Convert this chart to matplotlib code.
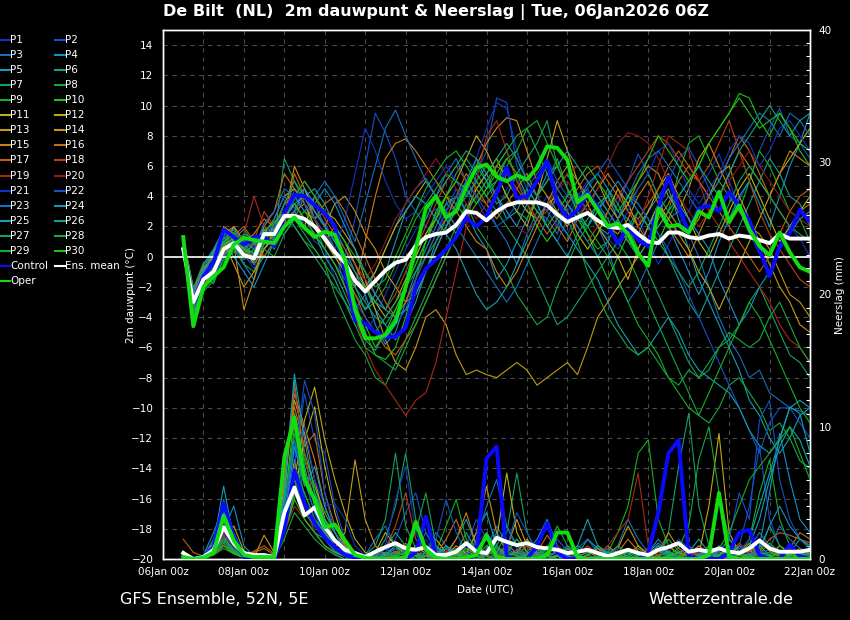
import numpy as np
import pandas as pd
import matplotlib
matplotlib.use('Agg')
import matplotlib.pyplot as plt
import matplotlib.dates as mdates
from matplotlib.lines import Line2D
from matplotlib.ticker import MultipleLocator, FixedLocator

W, H = 850, 620
N = 63
times = pd.date_range('2026-01-06 12:00', periods=N, freq='6h')

# ---------------- highlighted series: dewpoint (C) ----------------
T_CONTROL = [0.6, -3.0, -1.3, -0.4, 1.8, 1.3, 0.8, 1.3, 1.3, 0.7,
             2.9, 4.1, 4.0, 3.4, 2.9, 2.0, -1.0, -4.2, -4.4, -5.0,
             -5.3, -5.3, -4.7, -2.0, -0.8, -0.2, 0.5, 1.3, 2.6, 2.0,
             2.6, 4.2, 5.9, 3.9, 4.0, 5.0, 6.3, 3.6, 2.5, 3.1,
             4.2, 3.3, 2.0, 0.9, 2.0, 1.1, 0.7, 3.3, 5.3, 3.3,
             1.6, 3.2, 3.4, 3.0, 4.3, 3.3, 2.4, 0.5, -1.3, 0.7,
             1.6, 3.1, 2.3]
T_OPER = [1.3, -4.6, -2.0, -1.3, -0.7, 0.8, 1.25, 1.1, 1.0, 0.9,
          2.0, 2.6, 1.9, 1.3, 1.65, 1.45, -0.2, -3.5, -5.4, -5.4,
          -5.2, -4.3, -2.0, 0.5, 3.2, 4.0, 2.6, 3.0, 4.6, 5.9,
          6.1, 5.3, 5.0, 5.4, 5.1, 5.9, 7.3, 7.2, 6.4, 3.6,
          4.1, 3.1, 2.0, 2.2, 1.5, 0.2, -0.6, 3.2, 2.0, 2.1,
          1.6, 3.0, 2.6, 4.3, 2.3, 3.4, 1.8, 0.7, 0.1, 1.6,
          0.3, -0.7, -1.0]
T_MEAN = [0.5, -3.0, -1.5, -1.0, 0.5, 0.9, 0.1, -0.1, 1.5, 1.5,
          2.7, 2.7, 2.5, 2.0, 1.2, 0.3, -0.4, -1.6, -2.3, -1.6,
          -0.9, -0.4, -0.2, 0.7, 1.3, 1.5, 1.6, 2.1, 3.0, 2.9,
          2.4, 3.0, 3.4, 3.6, 3.6, 3.6, 3.4, 2.8, 2.3, 2.6,
          2.9, 2.4, 2.0, 1.9, 2.1, 1.5, 1.0, 0.9, 1.6, 1.6,
          1.3, 1.2, 1.4, 1.5, 1.2, 1.4, 1.3, 1.1, 0.9, 1.5,
          1.2, 1.2, 1.2]

# ---------------- highlighted series: precipitation (mm) ----------------
P_CONTROL = [0.3, 0, 0.15, 0.9, 4.2, 1.6, 0.15, 0, 0, 0,
             2.2, 6.7, 4.2, 2.7, 1.6, 0.9, 0.3, 0.1, 0, 0,
             0, 0, 0, 0.5, 3.2, 0.3, 0, 0, 0, 0.3,
             7.6, 8.5, 0.2, 0, 0, 1.0, 2.7, 0.5, 0, 0,
             0, 0, 0, 0, 0, 0, 0.45, 3.5, 8.0, 9.0,
             0.2, 0, 0, 0, 0.5, 2.0, 2.2, 0.3, 0, 0,
             1.1, 0.2, 0]
P_OPER = [0.15, 0, 0.1, 0.5, 3.3, 1.4, 0.3, 0.15, 0.15, 0.15,
          7.7, 10.7, 6.0, 4.5, 2.4, 2.6, 1.4, 0.3, 0.1, 0,
          0, 0, 0.1, 2.8, 0.7, 0.1, 0, 0, 0.1, 0.3,
          1.8, 0.15, 0, 0, 0, 0, 0.3, 2.0, 2.0, 0.15,
          0, 0, 0, 0, 0, 0, 0, 0, 0, 0,
          0, 0, 0.3, 5.0, 0.15, 0, 0, 0, 0, 0,
          0, 0, 0]
P_MEAN = [0.45, 0, 0.15, 0.7, 2.4, 1.2, 0.45, 0.3, 0.3, 0.15,
          3.5, 5.4, 3.3, 3.9, 2.4, 1.4, 0.7, 0.45, 0.15, 0.55,
          0.9, 1.2, 0.8, 0.7, 0.9, 0.3, 0.3, 0.55, 1.2, 0.55,
          0.45, 1.6, 1.3, 1.05, 1.2, 0.9, 0.8, 0.7, 0.45, 0.55,
          0.7, 0.45, 0.2, 0.45, 0.7, 0.45, 0.3, 0.7, 0.9, 1.2,
          0.55, 0.7, 0.55, 0.8, 0.55, 0.45, 0.8, 1.4, 0.8, 0.55,
          0.55, 0.55, 0.7]

# ---------------- perturbed members: dewpoint (C) ----------------
T_P1 = [1.0, -2.8, -1.2, -0.5, 0.8, 1.5, 0.2, -0.8, 1.0, 1.8,
        3.5, 3.0, 2.2, 1.0, 0.5, -1.5, -3.0, -4.5, -5.0, -4.0,
        -2.5, -1.0, 0.5, 1.8, 2.5, 3.2, 2.0, 3.5, 4.2, 3.8,
        2.5, 3.0, 4.5, 5.2, 3.8, 3.0, 4.0, 2.2, 1.5, 2.8,
        3.5, 2.0, 1.2, 0.5, 1.8, 2.5, 1.0, -0.5, 0.8, 2.2,
        3.0, 4.5, 5.5, 6.8, 5.0, 3.2, 1.5, 0.2, -1.0, 0.5,
        2.0, 1.2, 0.0]
T_P2 = [0.8, -3.5, -1.8, -1.2, 0.2, 0.8, 1.2, 0.5, 2.0, 1.0,
        2.0, 4.5, 3.8, 3.0, 2.2, 1.0, 0.0, 2.5, 6.0, 9.5,
        8.2, 6.5, 4.0, 3.0, 2.0, 1.5, 3.0, 4.5, 3.0, 5.5,
        7.0, 10.5, 10.2, 6.0, 4.5, 3.5, 2.0, 1.0, 2.5, 3.8,
        4.5, 3.0, 2.0, 3.5, 5.0, 6.8, 5.5, 4.0, 5.0, 6.5,
        7.2, 6.0, 4.5, 3.0, 2.0, 3.8, 5.0, 7.0, 8.5, 9.8,
        8.0, 7.5, 6.5]
T_P3 = [1.2, -2.5, -0.8, -1.5, 1.0, 2.0, 0.5, 1.0, 0.8, 2.5,
        4.0, 3.2, 4.0, 3.5, 2.0, 0.5, -2.0, -3.5, -2.5, -1.0,
        0.5, 2.0, 3.5, 4.5, 5.2, 4.0, 5.5, 6.5, 5.0, 4.0,
        3.5, 2.0, 1.0, -0.5, 1.5, 3.0, 2.5, 1.5, 3.5, 4.2,
        3.0, 2.0, 0.5, -1.5, -3.0, -2.0, -0.5, 1.0, 2.5, 3.0,
        1.5, 0.0, -2.0, -4.0, -5.5, -6.5, -8.0, -7.5, -9.0, -9.5,
        -10.0, -10.2, -10.5]
T_P4 = [0.9, -3.0, -1.0, 0.0, 1.5, 0.5, -0.5, -1.5, 0.5, 1.2,
        2.5, 3.8, 4.5, 2.5, 3.0, 1.8, 0.5, -1.0, -2.5, -4.5,
        -5.8, -5.0, -3.0, -1.0, 0.5, 2.0, 3.5, 4.0, 3.0, 1.5,
        0.5, -1.5, -0.5, 1.0, 2.5, 4.0, 5.5, 6.0, 4.5, 3.5,
        4.8, 5.5, 4.5, 3.0, 2.5, 1.5, 3.0, 4.0, 2.0, 0.5,
        -1.0, -2.5, -1.0, 1.0, 2.5, 4.0, 5.0, 3.5, 2.0, 4.0,
        6.0, 7.5, 9.5]
T_P5 = [1.1, -2.2, -0.5, 0.5, 1.8, 1.0, 0.0, 0.5, 2.0, 1.5,
        1.5, 2.5, 4.0, 4.5, 3.5, 2.0, 1.0, -0.5, -2.0, -3.5,
        -4.5, -5.5, -4.5, -3.0, -1.0, 1.0, 2.5, 1.5, 3.0, 4.5,
        5.5, 4.0, 2.5, 3.0, 4.5, 3.5, 2.0, 1.0, 0.0, 1.5,
        2.5, 3.5, 4.0, 2.5, 1.0, 0.5, 2.0, 3.5, 4.5, 2.5,
        0.5, -1.5, -3.0, -4.5, -6.0, -7.5, -9.5, -10.5, -12.0, -13.0,
        -12.0, -10.5, -10.0]
T_P6 = [0.7, -3.8, -2.0, -1.0, 0.0, 1.2, 1.8, 0.8, 1.5, 0.5,
        2.0, 3.0, 2.0, 1.5, 0.0, -1.0, -2.5, -4.0, -5.5, -6.2,
        -5.0, -4.0, -2.0, 0.0, 1.5, 2.8, 4.0, 5.5, 6.5, 5.5,
        4.5, 5.0, 6.5, 7.0, 5.0, 4.0, 3.0, 4.5, 5.5, 4.0,
        3.0, 2.0, 1.5, 2.5, 4.0, 3.5, 2.5, 1.5, 0.0, -1.5,
        -3.0, -4.0, -2.5, -1.0, 0.5, 2.0, 3.5, 5.0, 6.5, 5.5,
        4.0, 3.5, 2.0]
T_P7 = [1.3, -3.2, -1.5, -0.8, 0.5, 1.0, -0.5, -1.0, 0.0, 1.0,
        6.5, 5.0, 3.5, 2.0, 0.5, -0.5, -1.5, -2.0, -3.0, -4.0,
        -4.5, -3.5, -2.0, -0.5, 1.0, 2.5, 3.5, 3.0, 4.5, 6.0,
        5.0, 3.5, 4.0, 5.5, 6.5, 7.5, 9.0, 6.0, 4.5, 3.0,
        2.0, 3.0, 4.5, 3.5, 2.0, 0.5, -1.0, -2.5, -4.0, -5.5,
        -7.0, -8.0, -7.5, -6.0, -5.5, -4.5, -3.0, -2.0, -3.5, -5.0,
        -6.5, -7.0, -8.0]
T_P8 = [1.0, -2.6, -1.0, -1.8, 0.0, 0.5, 1.0, 0.0, 1.2, 2.0,
        2.8, 2.0, 1.0, 0.5, -0.5, -2.5, -4.0, -5.5, -6.5, -8.0,
        -8.5, -7.0, -5.5, -4.0, -2.5, -1.0, 0.5, 2.0, 3.5, 2.0,
        1.0, 0.0, -1.0, -2.5, -3.5, -4.5, -4.0, -2.0, -0.5, 1.0,
        2.0, 3.5, 2.5, 1.0, 0.0, -1.5, -3.0, -4.5, -6.0, -7.5,
        -9.0, -10.5, -11.0, -10.0, -8.5, -8.0, -9.0, -10.0, -11.5, -11.0,
        -12.0, -13.5, -14.0]
T_P9 = [0.6, -4.0, -2.2, -1.2, 1.0, 1.8, 0.5, 0.0, 1.8, 1.0,
        3.0, 2.5, 3.0, 2.0, 1.0, 0.0, -1.0, -2.5, -3.5, -3.0,
        -2.0, -0.5, 1.0, 2.5, 3.5, 4.5, 5.5, 5.0, 4.0, 5.0,
        6.0, 5.5, 4.0, 3.0, 2.5, 4.0, 5.0, 6.5, 4.5, 3.0,
        1.5, 0.5, 1.0, 2.5, 3.5, 4.5, 5.5, 4.0, 3.0, 5.5,
        7.5, 8.0, 6.5, 5.0, 4.0, 3.0, 5.0, 7.0, 6.0, 4.5,
        3.0, 2.5, 1.0]
T_P10 = [1.0, -3.5, -1.2, -0.5, 0.8, 1.2, 1.0, 0.5, 1.0, 2.0,
         3.5, 4.0, 3.0, 2.5, 1.5, 0.5, -1.0, -3.0, -5.0, -6.5,
         -6.8, -6.0, -4.0, -1.5, 1.0, 3.0, 4.0, 3.5, 2.5, 3.5,
         4.5, 6.0, 7.0, 5.0, 3.5, 2.0, 1.0, 2.0, 3.5, 2.5,
         1.5, 0.0, -1.5, 0.0, 1.5, 3.0, 2.0, 1.0, 2.5, 4.0,
         5.0, 6.0, 7.5, 8.5, 9.5, 10.8, 10.5, 9.0, 8.0, 9.5,
         8.5, 7.0, 6.0]
T_P11 = [0.9, -2.8, -0.8, 0.0, 2.0, 1.5, 0.5, -0.5, 1.5, 2.5,
         4.0, 4.5, 3.5, 2.0, 1.5, 0.5, -0.5, -1.5, -2.0, -1.0,
         0.5, 2.0, 3.0, 4.0, 5.0, 4.0, 3.0, 2.0, 3.0, 4.5,
         5.5, 6.5, 5.0, 4.0, 3.0, 2.5, 3.5, 4.0, 3.0, 1.5,
         0.5, 1.5, 3.0, 4.5, 3.5, 2.0, 3.0, 4.5, 5.5, 4.0,
         2.5, 1.0, 0.0, 1.5, 3.0, 4.5, 5.5, 4.0, 2.5, 1.0,
         2.0, 3.0, 4.0]
T_P12 = [1.2, -3.0, -1.6, -1.0, 0.5, 2.0, 1.0, -0.5, 0.5, 1.5,
         2.5, 3.5, 2.5, 2.0, 1.0, 2.0, 1.0, -0.5, -2.0, -3.0,
         -4.0, -3.0, -1.5, 0.0, 1.5, 2.5, 4.0, 5.0, 6.5, 8.0,
         7.0, 5.5, 4.0, 3.0, 2.0, 4.0, 6.5, 9.0, 7.0, 5.0,
         3.5, 2.0, 1.0, 0.0, -1.5, 0.5, 2.0, 3.5, 2.5, 1.5,
         0.5, -1.0, -2.0, -3.5, -2.0, -0.5, 1.0, 2.5, 4.0, 5.5,
         6.5, 7.5, 8.5]
T_P13 = [0.8, -2.5, -1.0, -0.5, 1.0, -0.5, -2.0, -1.0, 0.5, 1.5,
         3.0, 2.5, 2.0, 4.0, 3.0, 2.5, 1.5, 0.5, -1.5, -3.5,
         -5.5, -7.0, -7.5, -6.0, -4.0, -3.5, -4.5, -6.5, -7.8, -7.5,
         -7.8, -8.0, -7.5, -7.0, -7.5, -8.5, -8.0, -7.5, -7.0, -7.8,
         -6.0, -4.0, -3.0, -2.0, -1.0, 0.0, 1.0, 2.0, 3.0, 2.0,
         1.5, 2.5, 4.0, 5.5, 6.0, 4.0, 2.5, 1.0, -0.5, -2.0,
         -3.0, -4.5, -5.0]
T_P14 = [1.0, -3.2, -2.0, -0.8, 0.0, 0.8, -3.5, -1.5, 1.0, 2.0,
         2.5, 6.0, 4.5, 3.0, 2.0, 3.5, 4.0, 3.0, 1.5, 0.5,
         -1.0, -2.0, -3.0, -2.5, -1.0, 0.5, 2.0, 3.0, 4.5, 6.0,
         7.5, 8.5, 9.2, 9.0, 7.0, 5.0, 4.0, 3.0, 2.0, 3.5,
         4.0, 5.0, 3.5, 2.5, 3.5, 5.0, 6.0, 5.5, 4.0, 3.0,
         4.5, 6.5, 7.5, 6.0, 4.5, 3.0, 2.0, 1.5, 0.5, -1.0,
         -2.5, -3.0, -4.0]
T_P15 = [1.1, -2.0, -1.0, 0.3, 1.5, 2.0, 1.0, 1.5, 2.5, 2.0,
         2.5, 3.0, 3.5, 2.5, 1.0, 0.0, -1.0, -2.0, 1.0, 4.0,
         6.5, 7.5, 7.8, 7.0, 6.0, 5.0, 4.0, 3.0, 2.0, 1.0,
         0.5, -1.0, -2.0, -1.0, 0.5, 2.0, 3.5, 5.0, 6.0, 5.0,
         4.0, 3.0, 2.0, 1.5, 2.5, 4.0, 5.0, 3.5, 2.0, 1.0,
         0.0, 1.5, 3.0, 4.0, 5.5, 7.0, 6.0, 5.0, 4.0, 5.5,
         7.0, 6.5, 6.0]
T_P16 = [0.9, -3.6, -1.4, -0.2, 0.5, 1.0, 0.5, 0.0, 2.0, 3.0,
         5.5, 4.5, 3.5, 2.5, 3.5, 4.0, 3.0, 1.5, 0.0, -1.5,
         -3.0, -4.0, -3.0, -1.5, 0.0, 1.5, 2.5, 4.0, 5.5, 4.5,
         3.5, 2.5, 3.5, 4.5, 5.5, 4.0, 3.0, 2.0, 1.0, 2.5,
         3.5, 4.5, 5.5, 4.5, 3.0, 2.0, 1.0, 2.5, 3.5, 5.0,
         6.0, 5.0, 4.0, 5.0, 6.5, 8.0, 7.0, 5.5, 4.0, 3.0,
         2.0, 3.0, 3.5]
T_P17 = [1.4, -2.3, -0.6, -1.2, 0.2, 1.4, 2.0, 1.0, 0.0, 1.0,
         2.0, 5.5, 4.0, 2.5, 1.5, 0.5, -1.0, -2.5, -4.0, -5.0,
         -6.0, -6.5, -5.5, -4.5, -3.0, -1.5, 0.0, 1.5, 3.0, 4.0,
         5.0, 6.0, 5.5, 4.5, 3.5, 2.5, 1.5, 2.5, 3.5, 4.5,
         5.5, 6.0, 5.0, 4.0, 3.0, 2.5, 3.5, 4.5, 6.0, 7.0,
         6.0, 5.0, 4.0, 3.0, 2.0, 1.0, 0.0, -1.0, 0.0, 1.5,
         3.0, 4.0, 4.5]
T_P18 = [0.8, -3.0, -1.5, -0.6, 0.8, 0.5, 0.0, 1.0, 3.0, 2.0,
         3.5, 4.0, 5.0, 4.0, 2.5, 1.5, 0.5, -0.5, -1.5, -2.5,
         -3.5, -2.5, -1.0, 0.5, 2.0, 3.5, 5.0, 6.0, 5.0, 4.0,
         3.5, 4.5, 5.5, 4.5, 3.5, 2.5, 3.0, 4.0, 3.0, 2.0,
         1.0, 2.0, 3.0, 4.0, 5.0, 6.0, 7.0, 8.0, 7.5, 6.5,
         5.5, 5.0, 6.0, 7.5, 9.0, 7.0, 5.0, 3.0, 1.5, 0.5,
         -0.5, -1.5, -2.0]
T_P19 = [1.0, -2.7, -1.1, -0.3, 1.2, 0.8, 1.5, 4.0, 2.0, 1.5,
         3.0, 3.5, 2.5, 1.5, 0.5, -0.5, -2.0, -4.0, -6.0, -7.5,
         -8.5, -9.5, -10.5, -9.5, -9.0, -7.0, -4.0, -1.0, 2.0, 5.0,
         8.0, 9.0, 7.0, 5.0, 3.5, 2.5, 3.5, 4.5, 5.5, 6.0,
         5.0, 4.0, 3.0, 2.0, 1.0, 2.0, 4.0, 6.0, 8.0, 7.5,
         7.0, 5.0, 3.0, 2.0, 1.0, 0.0, -1.0, -2.0, -3.0, -4.5,
         -5.5, -6.0, -7.0]
T_P20 = [0.7, -3.3, -1.7, -0.9, 0.3, 1.6, 1.0, 0.5, 1.5, 1.0,
         2.0, 3.0, 4.0, 3.0, 2.0, 1.0, 0.0, -1.0, -1.5, -0.5,
         1.0, 2.5, 3.5, 4.5, 5.5, 6.5, 5.5, 4.5, 3.5, 2.5,
         3.5, 4.0, 3.0, 2.0, 1.5, 2.5, 3.5, 4.5, 5.0, 4.0,
         3.0, 4.5, 6.0, 7.5, 8.2, 8.0, 7.5, 6.5, 5.0, 4.0,
         3.0, 2.0, 3.0, 4.0, 5.0, 6.0, 7.0, 6.0, 5.0, 4.0,
         3.0, 2.5, 2.0]
T_P21 = [1.1, -2.9, -1.3, -0.7, 0.6, 1.0, 0.8, 0.0, 1.5, 2.0,
         3.0, 4.0, 3.5, 2.5, 1.5, 0.5, 2.5, 5.5, 8.5, 7.0,
         5.0, 3.5, 2.5, 3.0, 4.0, 5.0, 6.0, 5.0, 4.0, 6.5,
         8.5, 10.2, 9.8, 7.0, 5.0, 4.0, 3.0, 2.0, 3.0, 4.0,
         5.0, 4.0, 3.0, 2.0, 3.0, 4.5, 5.5, 7.0, 7.5, 6.0,
         4.5, 3.5, 4.5, 5.5, 7.0, 8.0, 7.5, 6.0, 7.0, 8.5,
         9.0, 8.0, 7.0]
T_P22 = [0.9, -3.4, -1.9, -1.4, 0.0, 0.6, 0.0, -0.5, 1.0, 2.5,
         4.0, 3.5, 2.5, 1.5, 0.5, -0.5, -1.5, -3.0, -4.0, -5.0,
         -5.5, -4.5, -3.5, -1.5, 0.0, 1.5, 3.0, 4.0, 5.0, 4.0,
         3.0, 2.0, 2.5, 3.5, 4.5, 5.5, 6.5, 5.0, 4.0, 3.5,
         4.5, 5.5, 6.5, 5.5, 4.5, 3.5, 2.5, 1.5, 0.5, -1.0,
         -2.5, -4.0, -5.5, -7.0, -8.5, -10.0, -11.5, -13.0, -11.0, -10.0,
         -10.0, -11.0, -12.0]
T_P23 = [1.2, -2.4, -0.9, -0.4, 1.2, 1.8, 1.0, 0.5, 2.2, 3.0,
         4.5, 4.0, 3.0, 4.0, 5.0, 4.0, 2.5, 1.0, 3.5, 6.0,
         8.5, 9.7, 8.0, 6.5, 5.0, 4.0, 3.0, 2.0, 1.0, 0.0,
         -1.0, -2.0, -3.0, -2.0, -0.5, 1.0, 2.5, 4.0, 3.0, 2.0,
         1.0, 0.0, 1.0, 2.5, 4.0, 5.5, 6.5, 7.0, 6.0, 5.0,
         4.0, 3.0, 4.0, 5.0, 6.5, 7.5, 8.5, 9.5, 9.0, 8.0,
         9.5, 9.0, 8.0]
T_P24 = [0.8, -3.1, -1.1, 0.2, 1.0, 0.0, -1.0, -2.0, -0.5, 1.0,
         2.0, 3.0, 4.5, 3.5, 4.5, 3.5, 2.0, 0.5, -1.0, -2.5,
         -3.5, -4.0, -3.5, -2.5, -1.0, 0.5, 2.0, 3.5, 5.0, 6.5,
         5.0, 4.0, 3.0, 2.0, 3.5, 5.0, 6.0, 4.5, 3.5, 2.5,
         2.0, 3.0, 4.0, 5.0, 4.0, 3.0, 2.0, 3.0, 4.0, 3.5,
         2.5, 1.5, 0.5, -1.5, -3.0, -4.5, -3.5, -2.0, -1.0, 0.5,
         1.5, 2.5, 3.0]
T_P25 = [1.0, -2.6, -0.7, 0.4, 1.6, 1.2, 0.2, 0.8, 1.8, 1.2,
         2.5, 3.5, 4.0, 3.0, 2.0, 1.0, -0.5, -2.0, -3.5, -2.5,
         -1.0, 1.0, 3.0, 4.0, 3.5, 2.5, 1.5, 0.5, -1.0, -2.5,
         -3.5, -3.0, -2.0, -0.5, 1.0, 2.5, 3.5, 2.5, 1.5, 0.5,
         -0.5, -1.5, -3.0, -4.5, -5.5, -6.5, -6.0, -5.0, -4.0, -5.0,
         -6.5, -7.5, -8.0, -8.5, -9.0, -10.0, -11.5, -12.5, -13.0, -12.0,
         -10.0, -9.5, -10.0]
T_P26 = [0.6, -3.7, -2.1, -1.1, 0.4, 1.4, 0.6, 0.2, 1.3, 1.8,
         3.5, 5.0, 4.0, 3.0, 2.0, 1.0, 0.0, -1.0, -2.0, -3.0,
         -3.5, -2.0, -0.5, 1.0, 2.5, 4.0, 5.0, 6.0, 7.0, 6.5,
         5.5, 6.5, 7.5, 6.5, 5.0, 4.0, 5.0, 6.0, 7.0, 6.0,
         5.0, 4.0, 3.0, 2.0, 1.0, 0.0, 1.0, 2.0, 3.0, 4.0,
         5.0, 6.0, 5.0, 4.0, 5.5, 7.0, 8.0, 9.0, 10.0, 9.0,
         8.0, 9.0, 9.5]
T_P27 = [1.3, -2.1, -0.4, -0.1, 1.3, 0.6, -0.2, 0.2, 1.0, 2.2,
         3.0, 2.0, 1.0, 0.0, -1.0, -2.0, -3.0, -4.0, -4.5, -5.0,
         -4.0, -3.0, -2.0, -1.0, 0.0, 1.0, 2.0, 3.0, 4.0, 5.0,
         4.0, 3.0, 2.0, 1.0, 0.0, -1.5, -3.0, -4.5, -4.0, -3.0,
         -2.0, -1.0, 0.0, 1.0, 2.0, 3.0, 2.0, 1.0, 0.0, -1.0,
         -2.0, -1.0, 0.5, 2.0, 3.5, 5.0, 6.0, 5.0, 4.0, 3.0,
         2.0, 1.5, 1.0]
T_P28 = [0.9, -3.9, -2.3, -1.6, -0.2, 0.3, 1.5, 1.2, 0.5, 0.0,
         1.5, 2.5, 1.5, 0.5, -0.5, -1.5, -3.0, -4.5, -6.0, -6.5,
         -7.0, -7.5, -6.0, -4.5, -3.0, -1.5, 0.0, 1.5, 3.0, 4.0,
         5.0, 6.0, 7.0, 8.0, 8.5, 7.0, 5.5, 4.0, 2.5, 1.0,
         -1.0, -2.5, -4.0, -5.0, -6.0, -6.5, -6.0, -7.0, -8.0, -8.5,
         -7.5, -8.0, -7.0, -6.0, -5.0, -5.5, -6.0, -5.5, -4.0, -3.0,
         -4.5, -6.0, -7.0]
T_P29 = [1.1, -3.3, -1.6, -0.6, 0.9, 1.6, 0.8, -0.3, 0.8, 1.5,
         3.0, 4.0, 5.0, 4.0, 3.0, 2.0, 1.0, 0.0, -1.0, -2.0,
         -1.5, 0.0, 1.5, 3.0, 4.5, 5.5, 6.5, 7.0, 6.0, 5.0,
         4.0, 5.0, 6.0, 7.0, 8.5, 9.0, 7.5, 6.0, 4.5, 3.0,
         2.0, 1.0, 0.0, -1.5, -3.0, -4.5, -5.5, -6.5, -8.0, -9.0,
         -10.0, -10.5, -9.0, -7.5, -6.0, -4.5, -3.0, -4.0, -5.5, -7.0,
         -8.5, -10.0, -11.0]
T_P30 = [1.0, -3.0, -1.4, -0.9, 0.7, 1.3, 0.4, 0.3, 1.7, 2.3,
         3.0, 3.5, 2.5, 1.5, 0.5, -0.5, -2.0, -3.5, -4.5, -6.0,
         -5.0, -3.5, -2.0, -0.5, 1.0, 2.5, 4.0, 5.0, 4.5, 3.5,
         4.5, 5.5, 6.5, 5.5, 4.0, 3.0, 2.0, 3.0, 4.0, 5.0,
         6.0, 5.0, 4.0, 3.0, 4.0, 5.0, 6.5, 8.0, 7.0, 6.0,
         5.0, 6.0, 7.5, 8.5, 9.5, 10.5, 9.5, 8.5, 9.0, 9.5,
         8.5, 7.5, 7.0]

# ---------------- perturbed members: precipitation (mm) ----------------
P_P1 = [0.2, 0, 0.1, 0.8, 2.5, 1.0, 0.2, 0, 0, 0.1,
        3.0, 8.5, 6.0, 3.5, 1.5, 0.5, 0.2, 0, 0, 0.3,
        1.0, 0.5, 0.2, 0.8, 1.5, 0.3, 0, 0, 0.5, 1.2,
        2.0, 0.8, 0.3, 0, 0, 0.4, 1.0, 0.3, 0, 0,
        0, 0.2, 0.5, 0.2, 0, 0, 0.3, 1.0, 0.5, 0,
        0, 0.2, 0.6, 0.3, 0, 0.5, 1.5, 0.8, 0.2, 0,
        0.3, 0.5, 0.2]
P_P2 = [0.5, 0, 0.2, 1.0, 3.0, 1.5, 0.3, 0, 0.2, 0.4,
        4.0, 7.0, 12.5, 9.0, 8.0, 4.0, 1.5, 0.5, 0.2, 0,
        0.5, 1.5, 3.5, 5.0, 2.0, 0.5, 0, 0.2, 1.0, 3.0,
        1.5, 0.5, 0, 0.3, 1.0, 0.5, 0, 0, 0.2, 0.8,
        1.5, 0.5, 0, 0, 0.2, 0.5, 0, 0, 0.5, 1.5,
        0.8, 0.2, 0, 0, 0.3, 1.0, 4.0, 8.5, 3.0, 1.0,
        0.5, 0.3, 0.5]
P_P3 = [0.3, 0, 0, 1.5, 3.5, 0.8, 0.1, 0, 0.1, 0.2,
        5.0, 9.0, 4.5, 2.0, 1.0, 0.4, 0, 0, 0.3, 1.5,
        2.5, 1.0, 0.2, 0, 0.5, 2.0, 1.0, 0.3, 0, 0,
        0.8, 2.5, 1.2, 0.4, 0, 0, 0.5, 1.5, 0.6, 0.2,
        0, 0, 0.3, 1.0, 3.0, 1.5, 0.5, 0, 0, 0,
        0.3, 1.0, 0.4, 0, 0, 0.2, 0.8, 2.0, 1.0, 0.5,
        0.3, 0.2, 0.3]
P_P4 = [0.1, 0, 0.3, 2.0, 4.0, 1.2, 0.5, 0, 0, 0.3,
        3.5, 6.0, 5.0, 3.0, 2.0, 1.0, 0.5, 0.1, 0, 0,
        0.2, 0.5, 1.0, 0.5, 0, 0, 0.3, 1.5, 3.0, 1.0,
        0.5, 0.3, 0, 0, 0.5, 1.5, 3.0, 1.0, 0.3, 0,
        0, 0.2, 0.8, 0.4, 0, 0, 0.5, 1.2, 0.5, 0.2,
        0, 0, 0.3, 0.6, 1.5, 0.8, 0.3, 1.0, 5.0, 9.5,
        6.0, 3.0, 2.0]
P_P5 = [0.6, 0, 0.2, 1.2, 5.5, 1.5, 0.2, 0.1, 0, 0,
        4.5, 13.5, 7.0, 4.0, 2.5, 1.0, 0.3, 0, 0, 0,
        0.4, 0.2, 0, 0.5, 1.0, 0.5, 0, 0, 0.2, 2.0,
        3.5, 1.0, 0.3, 0, 0, 0.2, 0.5, 0.2, 0, 0.3,
        1.5, 0.8, 0.2, 0, 0, 0.3, 0.8, 0.2, 0, 0,
        0.5, 1.5, 0.5, 0, 0, 0.3, 1.5, 4.0, 6.5, 9.0,
        11.5, 11.0, 8.0]
P_P6 = [0.2, 0, 0.1, 0.5, 1.5, 0.8, 0.2, 0, 0, 0,
        2.5, 5.5, 3.0, 2.0, 1.5, 0.8, 0.3, 0, 0, 0.2,
        0.8, 2.0, 1.0, 0.3, 0, 0, 0.2, 0.6, 0.2, 0,
        0.3, 1.0, 2.5, 1.0, 0.3, 0, 0, 0.2, 0.5, 0.2,
        0, 0, 0.2, 0.5, 0.2, 0, 0, 0.3, 1.0, 0.4,
        0, 0.2, 0.8, 0.3, 0, 0, 0.5, 1.0, 0.3, 0.2,
        0.5, 1.5, 0.8]
P_P7 = [0.3, 0, 0, 0.7, 1.8, 0.5, 0.1, 0, 0, 0,
        3.0, 9.5, 6.5, 4.5, 2.0, 1.0, 0.2, 0, 0, 0.3,
        1.5, 4.0, 8.0, 3.0, 1.0, 0.3, 0, 0.2, 0.8, 0.3,
        0, 0.5, 2.0, 6.5, 2.0, 0.5, 0, 0, 0.3, 1.0,
        0.5, 0.2, 0, 0, 0.3, 0.8, 0.3, 0, 2.0, 7.0,
        11.0, 4.0, 1.0, 0.3, 0, 0, 0.5, 1.5, 0.8, 0.3,
        0.3, 0.2, 0.2]
P_P8 = [0.4, 0, 0.1, 0.3, 1.0, 0.6, 0.3, 0, 0, 0,
        2.0, 4.5, 8.0, 5.5, 3.0, 1.5, 0.4, 0, 0, 0,
        0, 0.3, 0.8, 2.0, 5.0, 1.0, 0.2, 0, 0, 0.5,
        1.5, 0.5, 0.2, 0, 0.3, 1.2, 0.4, 0, 0, 0,
        0.2, 0.6, 0.2, 0, 0, 0, 0.2, 0.5, 1.5, 0.6,
        0.2, 0, 0, 0.3, 1.0, 0.4, 0, 0.5, 2.5, 1.0,
        0.3, 0, 0.2]
P_P9 = [0.2, 0, 0, 0.9, 2.8, 1.2, 0.2, 0, 0.1, 0,
        3.5, 10.0, 7.5, 5.0, 3.0, 2.0, 0.8, 0.2, 0, 0,
        0.3, 1.0, 0.5, 0.2, 0, 0.5, 2.5, 4.5, 1.5, 0.3,
        0, 0.2, 0.6, 1.5, 0.5, 0, 0, 0.3, 1.0, 0.4,
        0, 0, 0.5, 2.0, 4.0, 8.0, 9.0, 3.0, 1.0, 0.3,
        0, 0.2, 0.5, 0.2, 0, 0.4, 1.5, 5.0, 7.5, 3.0,
        1.0, 0.5, 0.3]
P_P10 = [0.3, 0, 0.2, 1.0, 3.2, 1.0, 0.1, 0, 0, 0,
         4.0, 11.0, 8.0, 5.5, 3.5, 2.0, 1.0, 0.3, 0, 0,
         0, 0.2, 0.6, 0.3, 0, 0.3, 1.0, 0.5, 0, 0.3,
         1.0, 0.4, 0, 0, 0.2, 0.8, 0.3, 0, 0, 0,
         0.3, 1.0, 0.5, 0.2, 0, 0, 0.2, 0.6, 0.3, 0,
         0, 0.3, 1.0, 0.5, 0.2, 0, 0, 0.4, 1.2, 0.5,
         0.2, 0, 0.3]
P_P11 = [0.2, 0, 0.1, 1.2, 3.8, 1.0, 0.3, 0, 0.2, 0,
         2.0, 5.0, 9.0, 11.5, 7.0, 3.5, 1.0, 0.3, 0, 0.5,
         2.0, 1.0, 0.3, 0, 0.5, 1.5, 0.5, 0, 0, 0,
         0.5, 1.5, 6.5, 2.0, 0.5, 0, 0, 0.3, 0.8, 0.2,
         0, 0, 0.2, 0.6, 0.2, 0, 0.3, 1.0, 0.4, 0,
         0, 0.2, 0.8, 0.3, 0, 0, 0.3, 0.6, 0.2, 0,
         0, 0.3, 0.5]
P_P12 = [0.4, 0, 0, 0.6, 2.2, 0.8, 0.2, 0, 0, 0.1,
         2.5, 6.0, 10.5, 13.0, 9.0, 6.0, 3.5, 1.5, 0.5, 0.2,
         0, 0, 0.3, 1.0, 0.4, 0, 0, 0.2, 0.6, 0.2,
         0, 0, 0.2, 0.5, 1.5, 0.6, 0.2, 0, 0, 0,
         0.3, 0.8, 0.3, 0, 0, 0, 0.2, 0.7, 1.0, 0.4,
         1.0, 0.3, 4.0, 9.5, 2.0, 0.5, 0.2, 0, 0.3, 1.0,
         0.5, 0.2, 0.2]
P_P13 = [0.3, 0, 0.1, 0.4, 1.2, 2.5, 0.6, 0.1, 0, 0,
         3.0, 7.5, 4.0, 2.5, 1.5, 0.8, 2.0, 7.5, 3.0, 1.0,
         0.3, 0, 0, 0, 0, 0, 0.3, 1.0, 0.4, 0,
         0, 0.3, 0.8, 3.0, 1.0, 0.3, 0, 0, 0, 0.2,
         0.5, 0.2, 0, 0, 0.3, 1.0, 0.4, 0, 0, 0,
         0.2, 0.5, 0.2, 0, 0, 0.3, 1.2, 0.5, 0.2, 0,
         0, 0.2, 0.3]
P_P14 = [0.5, 0, 0.2, 1.0, 1.5, 0.5, 0.2, 0.1, 1.8, 0.5,
         5.5, 12.0, 9.5, 6.0, 3.0, 1.5, 0.5, 0.2, 0, 0,
         0.3, 0.8, 0.3, 0, 0.2, 0.6, 0.2, 0, 0.5, 2.0,
         5.5, 2.0, 0.5, 0.2, 0, 0, 0.3, 1.0, 0.4, 0,
         0, 0, 0.3, 0.8, 2.5, 1.0, 0.3, 0, 0, 0.2,
         0.6, 0.2, 0, 0, 0.3, 1.0, 0.5, 0.2, 0, 0,
         0.3, 0.8, 0.4]
P_P15 = [0.2, 0, 0, 0.5, 2.0, 1.0, 0.3, 0, 0, 0.2,
         6.0, 12.5, 10.0, 7.5, 4.0, 2.0, 0.8, 0.3, 0, 0,
         0, 0.3, 1.0, 0.5, 0.2, 0, 0.4, 1.5, 3.5, 1.0,
         0.3, 0, 0.2, 0.7, 0.3, 0, 0, 0.2, 0.6, 0.2,
         0, 0.3, 1.0, 0.4, 0, 0, 0.2, 0.5, 2.0, 0.8,
         0.3, 0, 0.2, 0.5, 0.2, 0, 0.3, 1.5, 0.6, 0.2,
         0, 0.3, 0.5]
P_P16 = [0.6, 0, 0.1, 0.8, 2.5, 0.7, 0.3, 0.5, 0.8, 0.3,
         7.0, 11.5, 8.5, 9.5, 5.0, 2.5, 1.0, 0.3, 0, 0,
         0.2, 0.6, 0.2, 0, 0, 0.3, 1.5, 3.0, 1.0, 0.3,
         0, 0.3, 1.0, 0.5, 0.2, 0, 0, 0.3, 0.8, 0.3,
         0, 0, 0.2, 0.5, 1.5, 0.6, 0.2, 0, 0, 0,
         0.3, 1.0, 0.4, 0.2, 0, 0, 0.5, 1.5, 0.8, 0.3,
         0.8, 2.0, 1.5]
P_P17 = [1.5, 0.5, 0.2, 0.4, 1.0, 0.4, 0.2, 0.6, 1.0, 0.4,
         8.0, 10.0, 6.0, 4.5, 3.0, 1.5, 0.5, 0.1, 0, 0,
         0, 0.4, 1.2, 0.5, 0.2, 0, 0.2, 0.8, 0.3, 0,
         0.3, 0.6, 0.2, 0, 0, 0.5, 1.8, 0.7, 0.2, 0,
         0, 0.2, 0.6, 0.3, 0, 0, 0, 0.3, 1.0, 0.4,
         0.2, 0, 0.3, 0.8, 0.3, 0, 0.2, 0.6, 1.5, 2.0,
         1.8, 1.5, 1.2]
P_P18 = [0.3, 0, 0, 0.6, 1.8, 0.9, 0.2, 0, 0.2, 0,
         6.5, 13.0, 8.0, 4.0, 2.0, 1.0, 0.4, 0, 0, 0.2,
         0.8, 2.5, 5.0, 1.5, 0.5, 0, 0, 0.3, 1.0, 0.5,
         0.2, 0, 0, 0.3, 1.0, 0.4, 0, 0, 0, 0.3,
         1.0, 0.4, 0.2, 0, 0, 0.3, 0.8, 0.3, 0, 0.2,
         0.5, 0.2, 0, 0, 0.4, 1.2, 0.5, 0.2, 0, 0,
         0.2, 0.6, 0.3]
P_P19 = [0.2, 0, 0.1, 0.3, 1.0, 0.5, 0.1, 0, 0, 0,
         2.0, 4.0, 3.0, 2.0, 1.0, 0.5, 0.2, 0, 0, 0,
         0.2, 0.5, 0.2, 0, 0, 0.2, 0.6, 0.2, 0, 0,
         0.3, 0.8, 0.3, 0, 0, 0, 0.2, 0.5, 0.2, 0,
         0, 0.3, 1.0, 2.0, 3.0, 6.5, 1.0, 0.3, 0, 0,
         0.2, 0.5, 0.2, 0, 0, 0.3, 0.8, 0.3, 0, 0,
         0.2, 0.4, 0.2]
P_P20 = [0.4, 0, 0.2, 0.5, 1.2, 0.6, 0.2, 0, 0, 0.1,
         2.5, 5.5, 4.0, 2.0, 1.0, 0.5, 0.2, 0, 0, 0,
         0, 0.2, 0.6, 0.2, 0, 0, 0.3, 0.8, 0.3, 0,
         0, 0.2, 0.5, 0.2, 0, 0, 0.3, 1.0, 0.4, 0,
         0.2, 0.6, 0.2, 0, 0, 0, 0.2, 0.5, 0.2, 0,
         0, 0.3, 0.8, 0.3, 0, 0.2, 0.5, 0.2, 0, 0.3,
         0.6, 0.3, 0.2]
P_P21 = [0.3, 0, 0.1, 0.7, 2.0, 0.8, 0.2, 0, 0, 0,
         3.5, 8.0, 10.0, 6.0, 4.0, 4.2, 3.0, 1.0, 0.3, 0.5,
         1.0, 4.5, 7.0, 2.0, 0.5, 0.2, 0, 0.3, 1.0, 0.4,
         0, 0.3, 1.2, 0.5, 0.2, 0, 0.4, 1.5, 0.6, 0.2,
         0, 0, 0.3, 0.8, 0.3, 0, 0.2, 0.6, 0.2, 0,
         0.3, 0.8, 0.3, 0, 0.2, 0.6, 1.5, 0.6, 0.2, 0,
         0.2, 0.5, 0.3]
P_P22 = [0.2, 0, 0, 0.5, 1.5, 0.6, 0.1, 0, 0, 0,
         2.5, 7.0, 13.5, 11.0, 5.0, 2.0, 0.8, 0.2, 0, 0,
         0.3, 0.8, 0.3, 0, 0.5, 1.5, 4.5, 2.0, 0.5, 0.2,
         0, 0.2, 0.8, 3.5, 2.0, 0.6, 0.2, 0, 0, 0.3,
         0.8, 0.3, 0, 0, 0.2, 0.5, 0.2, 0, 0, 0.3,
         1.0, 0.4, 0.2, 0.5, 1.5, 5.0, 3.0, 10.5, 12.0, 6.0,
         3.0, 1.5, 1.0]
P_P23 = [0.5, 0, 0.2, 1.5, 4.5, 2.0, 0.4, 0, 0, 0,
         4.0, 9.0, 6.0, 3.5, 2.0, 1.0, 0.3, 0, 0, 0.3,
         0.8, 0.3, 0, 0.5, 2.0, 0.8, 0.2, 0, 0.3, 1.5,
         4.0, 6.0, 2.5, 0.8, 0.2, 0, 0, 0.3, 1.0, 0.4,
         0, 0.2, 0.6, 0.2, 0, 0, 0.3, 0.8, 0.3, 0,
         0, 0.2, 0.6, 0.2, 0.5, 1.0, 0.4, 0.2, 0.8, 2.5,
         1.5, 0.8, 0.5]
P_P24 = [0.3, 0, 0.1, 0.8, 2.2, 4.0, 1.0, 0.2, 0, 0,
         3.0, 8.5, 5.5, 7.0, 4.0, 2.0, 0.5, 0.2, 0, 0,
         0, 0.2, 0.5, 0.2, 0, 0.3, 1.0, 0.4, 0, 0,
         0.5, 2.0, 0.8, 0.3, 0, 0, 0.2, 0.6, 0.2, 0,
         0.3, 1.0, 0.4, 0, 0, 0.2, 0.5, 1.5, 0.6, 0.2,
         0, 0, 0.3, 1.0, 0.4, 0, 0.3, 0.8, 2.5, 4.0,
         2.5, 1.5, 1.0]
P_P25 = [0.4, 0, 0.2, 1.0, 3.0, 1.0, 0.2, 0, 0, 0,
         5.0, 14.0, 9.0, 5.0, 3.0, 1.5, 0.5, 0, 0, 0,
         0.3, 1.0, 0.5, 0, 0, 0.3, 0.8, 0.3, 0, 0.5,
         2.0, 0.8, 0.3, 0, 0.2, 0.5, 0.2, 0, 0.3, 1.0,
         3.0, 1.0, 0.3, 0, 0, 0, 0.3, 1.0, 0.4, 0.2,
         0, 0.2, 0.5, 0.2, 0, 0.3, 1.0, 3.0, 6.0, 8.5,
         10.0, 9.0, 7.0]
P_P26 = [0.2, 0, 0, 0.4, 1.2, 0.5, 0.1, 0, 0, 0.2,
         3.0, 6.0, 4.0, 3.0, 2.0, 1.0, 0.3, 0, 0, 0.2,
         0.5, 0.2, 0, 0, 0.3, 1.0, 0.4, 0, 0, 0,
         0.3, 0.8, 0.3, 0, 0, 0.3, 1.0, 0.4, 0, 0,
         0, 0.2, 0.5, 0.2, 0, 0, 0.2, 0.6, 0.2, 0,
         0, 0.3, 0.8, 0.3, 0, 0, 0.2, 0.5, 0.2, 0,
         0.2, 0.5, 0.3]
P_P27 = [0.3, 0, 0.1, 0.6, 1.6, 0.7, 0.2, 0, 0, 0,
         2.0, 5.0, 3.5, 2.5, 1.5, 0.6, 0.2, 0, 0.3, 1.0,
         3.0, 8.0, 2.5, 0.8, 0.2, 0, 0, 0.5, 2.0, 0.6,
         0.2, 0, 0.4, 1.5, 0.5, 0.2, 0, 0, 0.3, 0.8,
         0.3, 0, 0, 0.2, 0.5, 0.2, 0, 0, 0.2, 0.6,
         0.2, 0, 0, 0.3, 1.0, 0.4, 0, 0.2, 0.5, 0.2,
         0, 0.3, 0.4]
P_P28 = [0.1, 0, 0, 0.3, 0.8, 0.4, 0.1, 0, 0, 0,
         1.5, 3.5, 2.5, 1.5, 0.8, 0.3, 0, 0, 0, 0,
         0.2, 0.5, 0.2, 0, 0, 0, 0.3, 0.8, 0.3, 0,
         0, 0.2, 0.6, 0.2, 0, 0, 0, 0.3, 0.8, 0.3,
         0, 0, 0.2, 0.5, 0.2, 0, 0, 0, 0.3, 0.8,
         2.5, 7.5, 10.0, 5.0, 1.5, 0.5, 0.2, 0, 0.3, 1.0,
         0.5, 0.2, 0.2]
P_P29 = [0.3, 0, 0.1, 0.5, 1.4, 0.6, 0.2, 0, 0, 0,
         2.5, 7.0, 5.0, 3.0, 1.8, 0.8, 0.3, 0, 0, 0,
         0, 0.3, 1.0, 0.4, 0, 0, 0.2, 0.6, 0.2, 0,
         0.3, 1.0, 0.4, 0, 0, 0.2, 0.8, 2.5, 1.0, 0.3,
         0, 0, 0.3, 1.0, 0.4, 0, 0, 0.2, 0.6, 0.2,
         0, 0, 0.3, 0.8, 2.0, 4.0, 6.0, 7.0, 8.0, 9.0,
         10.0, 8.0, 6.0]
P_P30 = [0.2, 0, 0, 0.4, 1.0, 0.4, 0.1, 0, 0, 0,
         2.0, 4.5, 3.0, 2.0, 1.0, 0.5, 0.2, 0, 0, 0,
         0, 0.2, 0.5, 0.2, 0, 0, 0, 0.3, 0.8, 0.3,
         0, 0, 0.2, 0.5, 0.2, 0, 0, 0.2, 0.5, 0.2,
         0, 0, 0, 0.3, 0.8, 0.3, 0, 0, 0.2, 0.5,
         0.2, 0, 0, 0.3, 0.7, 0.3, 0, 0, 0.2, 0.5,
         0.3, 0.2, 0.2]

MEMBER_T = [T_P1, T_P2, T_P3, T_P4, T_P5, T_P6, T_P7, T_P8, T_P9, T_P10,
            T_P11, T_P12, T_P13, T_P14, T_P15, T_P16, T_P17, T_P18, T_P19, T_P20,
            T_P21, T_P22, T_P23, T_P24, T_P25, T_P26, T_P27, T_P28, T_P29, T_P30]
MEMBER_P = [P_P1, P_P2, P_P3, P_P4, P_P5, P_P6, P_P7, P_P8, P_P9, P_P10,
            P_P11, P_P12, P_P13, P_P14, P_P15, P_P16, P_P17, P_P18, P_P19, P_P20,
            P_P21, P_P22, P_P23, P_P24, P_P25, P_P26, P_P27, P_P28, P_P29, P_P30]
MEMBER_NAMES = ['P%d' % k for k in range(1, 31)]

PALETTE = ['#1432c0', '#1450c8', '#1470c0', '#1490c8', '#14a0b0',
           '#14a088', '#14a060', '#14a840', '#14b024', '#20c014',
           '#b8b414', '#c0a814', '#c09c14', '#c89014', '#c88014',
           '#c07014', '#c06014', '#b84018', '#a82818', '#901818']
C_CONTROL = '#0a0aff'
C_OPER = '#11dd11'
C_MEAN = '#ffffff'
DATE_TICKS = pd.date_range('2026-01-06', '2026-01-22', freq='2D')
DAY_TICKS = pd.date_range('2026-01-06', '2026-01-22', freq='1D')
T_TICKS = list(range(-20, 15, 2))
P_TICKS = [0, 10, 20, 30, 40]

for nm, arr in list(zip(MEMBER_NAMES, MEMBER_T)) + list(zip(MEMBER_NAMES, MEMBER_P)) + \
        [('tc', T_CONTROL), ('to', T_OPER), ('tm', T_MEAN), ('pc', P_CONTROL), ('po', P_OPER), ('pm', P_MEAN)]:
    if len(arr) != N:
        raise ValueError('%s has %d values' % (nm, len(arr)))

# ---------------- figure ----------------
def fx(px):
    return px / W

def fy(py):
    return 1 - py / H

fig = plt.figure(figsize=(W / 100, H / 100), dpi=100, facecolor='black')
ax = fig.add_axes([fx(163), fy(559), (810 - 163) / W, (559 - 30) / H])
ax.set_facecolor('black')
ax2 = ax.twinx()

xnum = mdates.date2num(times)

for k, arr in enumerate(MEMBER_T):
    ax.plot(xnum, arr, color=PALETTE[k % 20], lw=0.8, zorder=3)
ax.plot(xnum, T_CONTROL, color=C_CONTROL, lw=2.8, zorder=5)
ax.plot(xnum, T_MEAN, color=C_MEAN, lw=2.8, zorder=6)
ax.plot(xnum, T_OPER, color=C_OPER, lw=2.8, zorder=7)
ax.axhline(0, color='white', lw=1.2, zorder=4)

for k, arr in enumerate(MEMBER_P):
    ax2.plot(xnum, arr, color=PALETTE[k % 20], lw=0.8, zorder=3)
ax2.plot(xnum, P_CONTROL, color=C_CONTROL, lw=2.8, zorder=5)
ax2.plot(xnum, P_MEAN, color=C_MEAN, lw=2.8, zorder=6)
ax2.plot(xnum, P_OPER, color=C_OPER, lw=2.8, zorder=7)

ax.set_xlim(mdates.date2num(pd.Timestamp('2026-01-06')), mdates.date2num(pd.Timestamp('2026-01-22')))
ax.set_ylim(-20, 15)
ax2.set_ylim(0, 40)

ax.xaxis.set_major_locator(FixedLocator(mdates.date2num(DATE_TICKS)))
ax.xaxis.set_minor_locator(FixedLocator(mdates.date2num(DAY_TICKS)))
ax.xaxis.set_major_formatter(mdates.DateFormatter('%d%b %Hz'))
ax.set_yticks(T_TICKS)
ax2.set_yticks(P_TICKS)
ax2.yaxis.set_minor_locator(MultipleLocator(1))

gridkw = dict(color='#4a4a4a', linestyle=(0, (4, 4)), lw=0.8)
ax.grid(True, which='both', axis='x', **gridkw)
ax.grid(True, which='major', axis='y', **gridkw)
ax.set_axisbelow(True)

ax.tick_params(axis='both', which='both', length=0, colors='white', labelsize=7.5)
ax.tick_params(axis='y', pad=7)
ax.tick_params(axis='x', pad=6)
ax2.tick_params(axis='y', which='major', length=0, colors='white', labelsize=7.5, pad=6)
ax2.tick_params(axis='y', which='minor', direction='in', length=3, width=0.8, color='white')

for a in (ax, ax2):
    for s in a.spines.values():
        s.set_color('white')
        s.set_linewidth(1.0)

# texts
fig.text(fx(163), fy(12), 'De Bilt  (NL)  2m dauwpunt & Neerslag | Tue, 06Jan2026 06Z',
         color='white', fontsize=11.5, fontweight='bold', ha='left', va='center')
fig.text(fx(120), fy(599), 'GFS Ensemble, 52N, 5E', color='white', fontsize=11.5, ha='left', va='center')
fig.text(fx(793), fy(599), 'Wetterzentrale.de', color='white', fontsize=11.5, ha='right', va='center')
fig.text(fx(485), fy(589), 'Date (UTC)', color='white', fontsize=7.5, ha='center', va='center')
fig.text(fx(131), fy(295), '2m dauwpunt (°C)', color='white', fontsize=7.5, ha='center', va='center', rotation=90)
fig.text(fx(840), fy(295), 'Neerslag (mm)', color='white', fontsize=7.5, ha='center', va='center', rotation=90)

# legend (row-wise, two columns)
legend_items = []
for k in range(30):
    legend_items.append((MEMBER_NAMES[k], PALETTE[k % 20]))
legend_items += [('Control', C_CONTROL), ('Ens. mean', C_MEAN), ('Oper', C_OPER)]
for idx, (lab, col) in enumerate(legend_items):
    row, c = divmod(idx, 2)
    y = 40 + 15.06 * row
    x0 = 0 if c == 0 else 55
    fig.add_artist(Line2D([fx(x0), fx(x0 + 10)], [fy(y), fy(y)], transform=fig.transFigure,
                          color=col, lw=1.5))
    fig.text(fx(x0 + 10), fy(y), lab, color='white', fontsize=7.5, ha='left', va='center')

fig.savefig('out.png', dpi=100, facecolor='black')
